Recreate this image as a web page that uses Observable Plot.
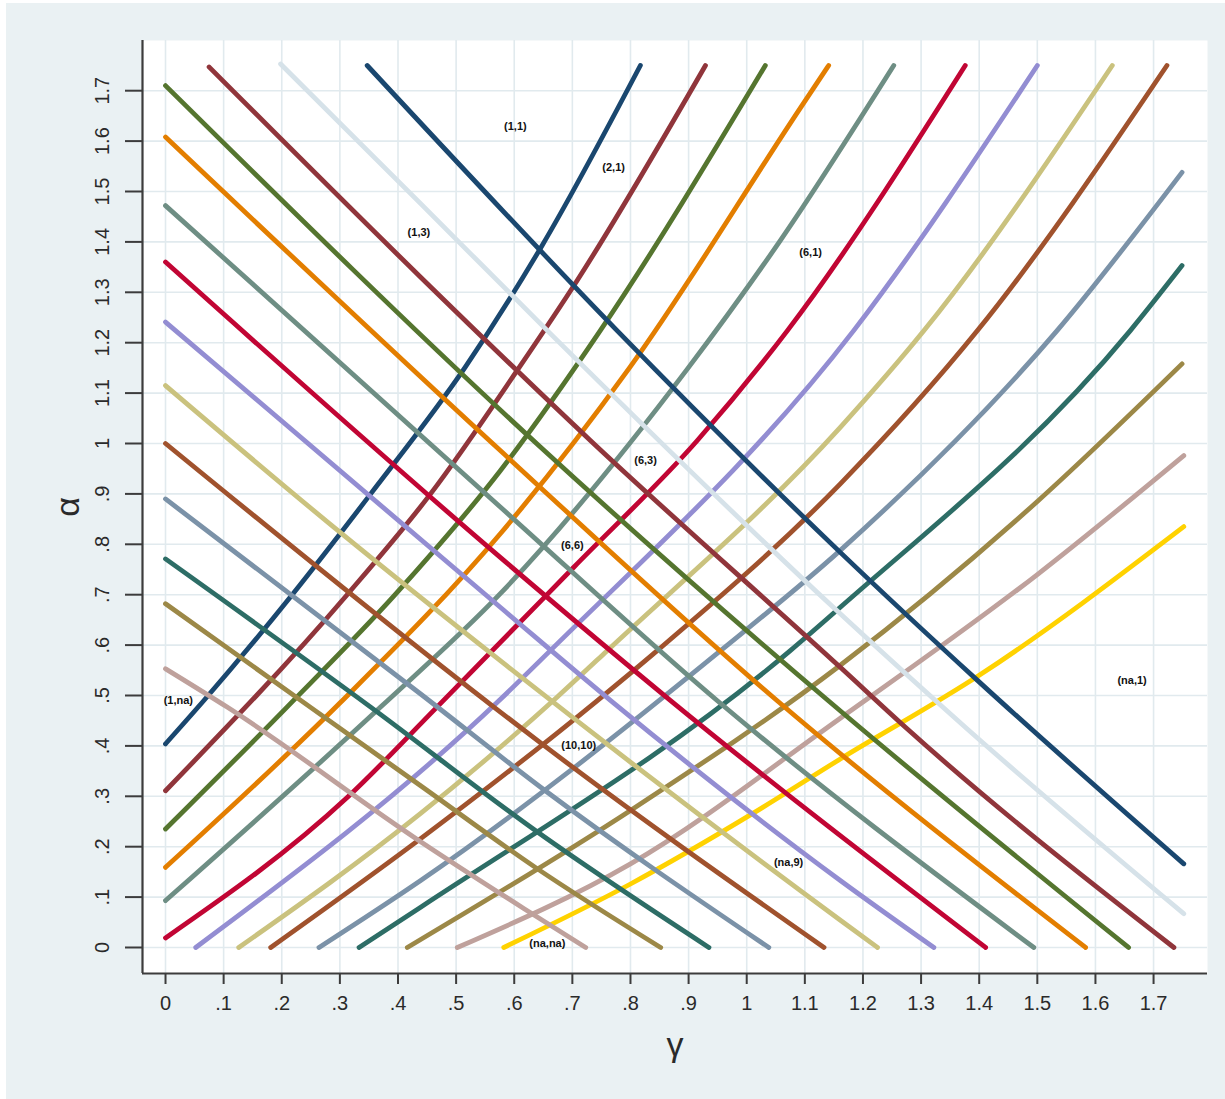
<!DOCTYPE html>
<html>
<head>
<meta charset="utf-8">
<script src="https://cdn.jsdelivr.net/npm/d3@7"></script>
<script src="https://cdn.jsdelivr.net/npm/@observablehq/plot@0.6"></script>
<style>
  html, body { margin: 0; padding: 0; background: #ffffff; }
  #bg { position: absolute; left: 6px; top: 3px; width: 1219px; height: 1096px; background: #eaf1f3; }
  #chart { position: absolute; left: 0; top: 0; }
</style>
</head>
<body>
<div id="bg"></div>
<div id="chart"></div>
<script>
// Axis ticks (both axes share the same grid)
const tickValues = [0, 0.1, 0.2, 0.3, 0.4, 0.5, 0.6, 0.7, 0.8, 0.9, 1, 1.1, 1.2, 1.3, 1.4, 1.5, 1.6, 1.7];
const tickLabels = ["0", ".1", ".2", ".3", ".4", ".5", ".6", ".7", ".8", ".9", "1", "1.1", "1.2", "1.3", "1.4", "1.5", "1.6", "1.7"];

// Rising curves: [gamma, alpha] points
const upNavy      = [[0, 0.404], [0.066, 0.49], [0.218, 0.70], [0.353, 0.90], [0.516, 1.152], [0.648, 1.393], [0.817, 1.75]];
const upMaroon    = [[0, 0.311], [0.3125, 0.70], [0.456, 0.90], [0.608, 1.15], [0.708, 1.323], [0.929, 1.75]];
const upForest    = [[0, 0.235], [0.209, 0.477], [0.395, 0.70], [0.576, 0.946], [0.748, 1.224], [1.032, 1.75]];
const upOrange    = [[0, 0.159], [0.30, 0.485], [0.576, 0.821], [0.797, 1.148], [1.093, 1.667], [1.141, 1.75]];
const upTeal      = [[0, 0.093], [0.37, 0.477], [0.576, 0.702], [0.898, 1.148], [1.058, 1.403], [1.253, 1.75]];
const upCranberry = [[0, 0.019], [0.313, 0.298], [0.467, 0.477], [0.702, 0.754], [0.915, 1.006], [1.07, 1.224], [1.376, 1.75]];
const upLavender  = [[0.052, 0], [0.574, 0.49], [0.662, 0.589], [1.184, 1.224], [1.5, 1.75]];
const upKhaki     = [[0.126, 0], [0.439, 0.266], [0.674, 0.497], [0.76, 0.589], [1.161, 1.032], [1.305, 1.224], [1.629, 1.75]];
const upSienna    = [[0.181, 0], [0.439, 0.216], [0.743, 0.49], [0.846, 0.589], [1.161, 0.92], [1.397, 1.224], [1.723, 1.75]];
const upEmidblue  = [[0.264, 0], [0.439, 0.133], [0.955, 0.589], [1.161, 0.788], [1.534, 1.224], [1.749, 1.538]];
const upEmerald   = [[0.333, 0], [0.439, 0.08], [1.075, 0.589], [1.161, 0.675], [1.66, 1.224], [1.749, 1.353]];
const upBrown     = [[0.416, 0], [0.8, 0.272], [1.161, 0.56], [1.5, 0.885], [1.749, 1.158]];
const upErose     = [[0.502, 0], [0.8, 0.166], [1.161, 0.455], [1.5, 0.74], [1.752, 0.976]];
const upGold      = [[0.582, 0], [0.8, 0.126], [1.012, 0.267], [1.161, 0.374], [1.4, 0.54], [1.752, 0.835]];

// Falling curves
const downGray      = [[0.198, 1.753], [0.439, 1.476], [0.657, 1.224], [1.161, 0.662], [1.379, 0.434], [1.752, 0.067]];
const downNavy      = [[0.347, 1.75], [0.777, 1.224], [1.161, 0.784], [1.397, 0.53], [1.752, 0.166]];
const downMaroon    = [[0.075, 1.747], [0.439, 1.33], [0.731, 1.006], [1.161, 0.556], [1.276, 0.434], [1.735, 0]];
const downForest    = [[0, 1.71], [0.645, 0.993], [1.14, 0.49], [1.657, 0]];
const downOrange    = [[0, 1.608], [0.576, 0.986], [1.052, 0.49], [1.583, 0]];
const downTeal      = [[0, 1.472], [0.576, 0.874], [0.949, 0.49], [1.494, 0]];
const downCranberry = [[0, 1.36], [0.576, 0.774], [0.869, 0.49], [1.411, 0]];
const downLavender  = [[0, 1.241], [0.576, 0.675], [0.766, 0.49], [1.161, 0.133], [1.322, 0]];
const downKhaki     = [[0, 1.115], [0.3, 0.824], [0.576, 0.569], [1.16, 0.055], [1.225, 0]];
const downSienna    = [[0, 1.0], [0.565, 0.477], [0.651, 0.401], [1.133, 0]];
const downEmidblue  = [[0, 0.89], [0.439, 0.503], [0.657, 0.308], [1.038, 0]];
const downEmerald   = [[0, 0.771], [0.353, 0.477], [0.64, 0.229], [0.935, 0]];
const downBrown     = [[0, 0.682], [0.249, 0.477], [0.439, 0.321], [0.64, 0.156], [0.852, 0]];
const downErose     = [[0, 0.553], [0.106, 0.477], [0.439, 0.21], [0.617, 0.077], [0.723, 0]];

// Stata s2color palette
const risingCurves  = [upNavy, upMaroon, upForest, upOrange, upTeal, upCranberry, upLavender, upKhaki, upSienna, upEmidblue, upEmerald, upBrown, upErose, upGold];
const risingColors  = ["#1a476f", "#90353b", "#55752f", "#e37e00", "#6e8e84", "#c10534", "#938dd2", "#cac27e", "#a0522d", "#7b92a8", "#2d6d66", "#9c8847", "#bfa19c", "#ffd200"];
const fallingCurves = [downGray, downNavy, downMaroon, downForest, downOrange, downTeal, downCranberry, downLavender, downKhaki, downSienna, downEmidblue, downEmerald, downBrown, downErose];
const fallingColors = ["#d6e2e9", "#1a476f", "#90353b", "#55752f", "#e37e00", "#6e8e84", "#c10534", "#938dd2", "#cac27e", "#a0522d", "#7b92a8", "#2d6d66", "#9c8847", "#bfa19c"];

// Curve annotations
const labelText = ["(1,1)", "(2,1)", "(1,3)", "(6,1)", "(6,3)", "(6,6)", "(1,na)", "(10,10)", "(na,1)", "(na,9)", "(na,na)"];
const labelX    = [0.602, 0.771, 0.436, 1.11, 0.826, 0.70, 0.022, 0.711, 1.663, 1.072, 0.657];
const labelY    = [1.629, 1.548, 1.419, 1.38, 0.966, 0.798, 0.49, 0.401, 0.53, 0.169, 0.0085];

const xDomain = [-0.0396, 1.7928];
const yDomain = [-0.0516, 1.7996];
const axisColor = "#3c3c3c";

const toRows = pts => pts.map(([x, y]) => ({x, y}));
const curveMark = (pts, color) => Plot.line(toRows(pts), {
  x: "x", y: "y", stroke: color, strokeWidth: 4.8,
  strokeLinecap: "round", strokeLinejoin: "round", curve: "monotone-x"
});

const labels = labelText.map((t, i) => ({t, x: labelX[i], y: labelY[i]}));
const fmt = d => tickLabels[tickValues.indexOf(d)];

const chart = Plot.plot({
  width: 1225,
  height: 1099,
  marginLeft: 142,
  marginRight: 18,
  marginTop: 40,
  marginBottom: 126,
  style: {background: "transparent", fontFamily: "'Liberation Sans', Arial, Helvetica, sans-serif"},
  x: {domain: xDomain},
  y: {domain: yDomain},
  marks: [
    Plot.frame({fill: "white", stroke: null}),
    Plot.gridX(tickValues, {stroke: "#e1eaee", strokeOpacity: 1, strokeWidth: 1.6}),
    Plot.gridY(tickValues, {stroke: "#e1eaee", strokeOpacity: 1, strokeWidth: 1.6}),
    ...risingCurves.map((c, i) => curveMark(c, risingColors[i])),
    ...fallingCurves.map((c, i) => curveMark(c, fallingColors[i])),
    Plot.text(labels, {x: "x", y: "y", text: "t", fontSize: 11, fill: "#111", fontWeight: 600}),
    Plot.ruleX([xDomain[0]], {stroke: axisColor, strokeWidth: 2.2}),
    Plot.ruleY([yDomain[0]], {stroke: axisColor, strokeWidth: 2.2}),
    Plot.axisX(tickValues, {tickSize: 11, tickPadding: 11, fontSize: 20, tickFormat: fmt, stroke: axisColor, strokeWidth: 2, fill: "#2a2a2a", label: null}),
    Plot.axisY(tickValues, {tickSize: 17, tickPadding: 17, tickRotate: -90, fontSize: 20, tickFormat: fmt, stroke: axisColor, strokeWidth: 2, fill: "#2a2a2a", label: null}),
    Plot.text(["α"], {frameAnchor: "left", dx: -74, rotate: -90, fontSize: 34, textAnchor: "middle", lineAnchor: "middle", fill: "#2a2a2a"}),
    Plot.text(["γ"], {frameAnchor: "bottom", dy: 72, fontSize: 34, textAnchor: "middle", lineAnchor: "middle", fill: "#2a2a2a"})
  ]
});

document.getElementById("chart").append(chart);
</script>
</body>
</html>
